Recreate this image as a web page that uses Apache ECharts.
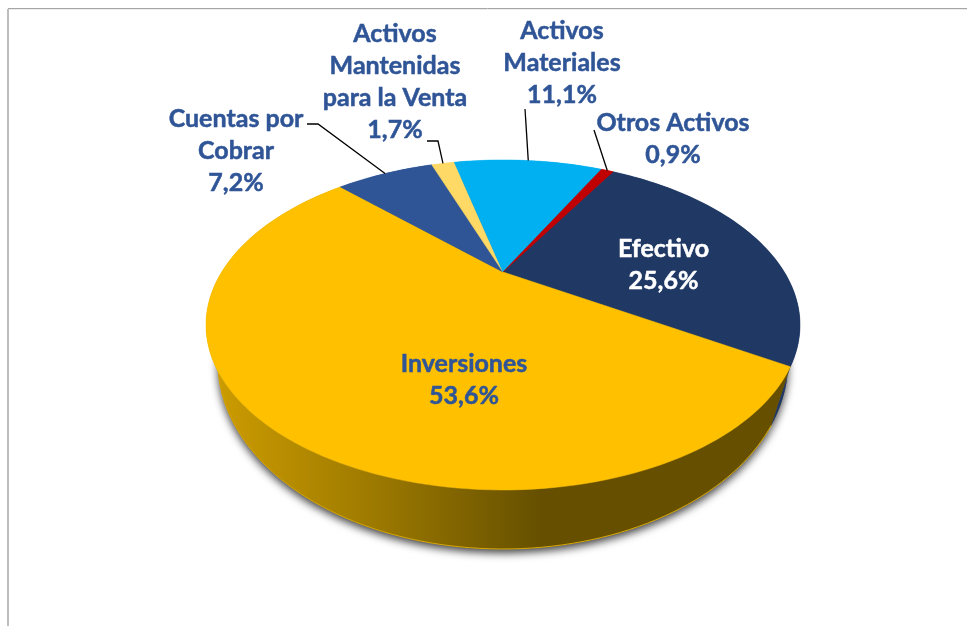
<!DOCTYPE html>
<html><head><meta charset="utf-8">
<style>html,body{margin:0;padding:0;background:#fff}#c{width:967px;height:626px}</style>
<script src="https://cdn.jsdelivr.net/npm/echarts@6/dist/echarts.min.js"></script>
</head><body><div id="c"></div>
<script>
const categories = ['Efectivo','Inversiones','Cuentas por\nCobrar','Activos\nMantenidas\npara la Venta','Activos\nMateriales','Otros Activos'];
const values = [25.6,53.6,7.2,1.7,11.1,0.9];
const topColors = ['#1F3864','#FFC000','#2F5597','#FFD966','#00B0F0','#C00000'];
const labelColors = ['#FFFFFF','#2F5597','#2F5597','#2F5597','#2F5597','#2F5597'];

// layout of the tilted disc (perspective projection of a circle)
const startAngle = 30, K = 0.321;
const topPlane = {cx:503, cy:272, rx:281.3, ry:148, skew:0};
const botPlane = {cx:503, cy:302, rx:270, ry:167.7, skew:4.5};
// label centres and leader-line elbows, in pixels
const labelPos = [[663.5,265],[464,379.5],[236,151],[395,82],[562,63],[673,139]];
const leaderEnds = [null,null,[[318,124],[307,124]],[[438,141],[427,141]],[[525,109]],[[594,130]]];

const total = values.reduce((a,b)=>a+b,0);
const starts = []; values.reduce((acc,v,i)=>{starts[i]=acc;return acc+v/total*360;},startAngle);
const project = (p,deg)=>{
  const t=(deg+(p.skew||0))*Math.PI/180, u=Math.sin(t), v=-Math.cos(t), w=1-K*v;
  return [p.cx+p.rx*u/w, p.cy+p.ry*v/w];
};
const arc = (p,a0,a1)=>{
  const n=Math.max(2,Math.ceil(Math.abs(a1-a0)/1.5)),pts=[];
  for(let i=0;i<=n;i++) pts.push(project(p,a0+(a1-a0)*i/n));
  return pts;
};
const sideGold = {type:'linear',x:218,y:0,x2:540,y2:0,global:true,colorStops:[
  {offset:0,color:'#CC9B00'},{offset:0.45,color:'#A07C00'},{offset:1,color:'#665000'}]};
const sideFill = i => i===1 ? sideGold : topColors[i];

const chart = echarts.init(document.getElementById('c'),null,{renderer:'canvas'});
const data = values.map((v,i)=>({name:categories[i],value:[v,i]}));
chart.setOption({
  animation:false,
  backgroundColor:'#fff',
  graphic:[
    {type:'line',silent:true,shape:{x1:8,y1:8.5,x2:967,y2:8.5},style:{stroke:'#A6A6A6',lineWidth:1}},
    {type:'line',silent:true,shape:{x1:8,y1:9.5,x2:967,y2:9.5},style:{stroke:'#EDEDED',lineWidth:1}},
    {type:'line',silent:true,shape:{x1:8,y1:9,x2:8,y2:626},style:{stroke:'#BDBDBD',lineWidth:2}}
  ],
  series:[
    {type:'custom',coordinateSystem:'none',z:2,silent:true,data,
     renderItem(params,api){
       const i=params.dataIndex,a0=starts[i],a1=a0+api.value(0)/total*360;
       const top=arc(topPlane,a0,a1),bot=arc(botPlane,a0,a1);
       const poly=top.concat(bot.slice().reverse());
       const kids=[{type:'polygon',shape:{points:bot.concat([[botPlane.cx,botPlane.cy]])},
         style:{fill:'#555',shadowBlur:9,shadowOffsetY:4,shadowColor:'rgba(0,0,0,0.75)'}},
         {type:'polygon',shape:{points:poly},style:{fill:sideFill(i)}}];
       if(i===1) kids.push({type:'polyline',shape:{points:bot},style:{stroke:'#D9A800',lineWidth:1,fill:null}});
       return {type:'group',children:kids};
     }},
    {type:'custom',coordinateSystem:'none',z:3,silent:true,data,
     renderItem(params,api){
       const i=params.dataIndex,a0=starts[i],a1=a0+api.value(0)/total*360;
       const pts=[[topPlane.cx,topPlane.cy]].concat(arc(topPlane,a0,a1));
       return {type:'polygon',shape:{points:pts},style:{fill:topColors[i],stroke:topColors[i],lineWidth:0.5}};
     }},
    {type:'custom',coordinateSystem:'none',z:4,silent:true,data,
     renderItem(params,api){
       const i=params.dataIndex,v=api.value(0),a0=starts[i],a1=a0+v/total*360;
       const kids=[];
       if(leaderEnds[i]){
         kids.push({type:'polyline',shape:{points:[project(topPlane,(a0+a1)/2)].concat(leaderEnds[i])},
           style:{stroke:'#000',lineWidth:1.3,fill:null}});
       }
       kids.push({type:'text',x:labelPos[i][0],y:labelPos[i][1],style:{
         text:categories[i]+'\n'+v.toFixed(1).replace('.',',')+'%',
         fontFamily:'Lato',fontWeight:'bold',fontSize:25,lineHeight:32,
         stroke:labelColors[i],lineWidth:0.5,
         fill:labelColors[i],align:'center',verticalAlign:'middle'}});
       return {type:'group',children:kids};
     }}
  ]
});
</script></body></html>
